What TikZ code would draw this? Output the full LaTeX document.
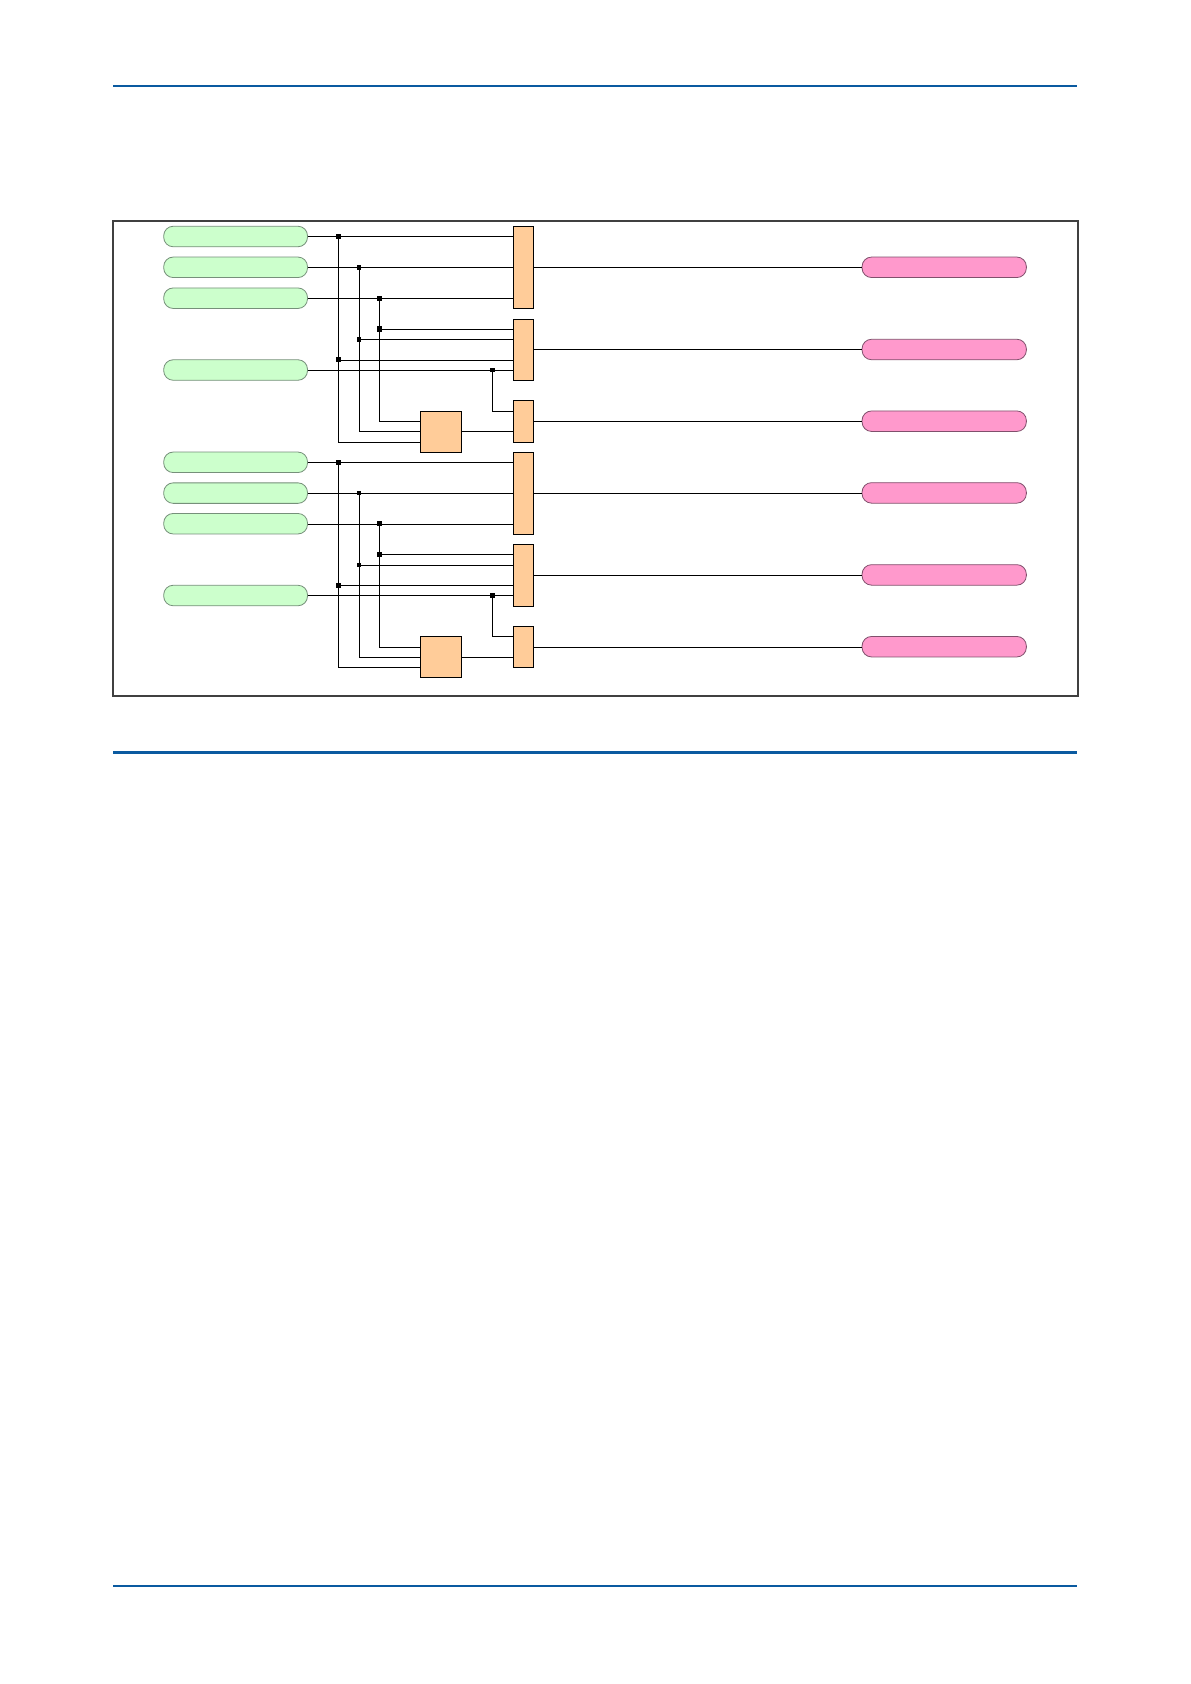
\documentclass[tikz,border=0pt]{standalone}
\definecolor{rulecol}{HTML}{0A5AA0}
\definecolor{framecol}{HTML}{404040}
\definecolor{pillgreen}{HTML}{CCFFCC}
\definecolor{pillgreenline}{HTML}{76907A}
\definecolor{pillpink}{HTML}{FF99CC}
\definecolor{pillpinkline}{HTML}{80506C}
\definecolor{boxorange}{HTML}{FFCC99}
\tikzset{
  inpill/.style={draw=pillgreenline,fill=pillgreen,line width=0.8pt,rounded corners=9.5pt,minimum width=143.8pt,minimum height=20.5pt,inner sep=0pt,outer sep=0pt},
  outpill/.style={draw=pillpinkline,fill=pillpink,line width=0.8pt,rounded corners=9.5pt,minimum width=164.3pt,minimum height=20.5pt,inner sep=0pt,outer sep=0pt},
  gatebox/.style={draw=black,fill=boxorange,line width=1pt,minimum width=20.4pt,inner sep=0pt,outer sep=0pt},
  sqbox/.style={draw=black,fill=boxorange,line width=1pt,minimum width=41.2pt,minimum height=41pt,inner sep=0pt,outer sep=0pt},
  jdot/.style={fill=black,draw=none,minimum size=5.4pt,inner sep=0pt,outer sep=0pt},
  jsmall/.style={fill=black,draw=none,minimum size=4.4pt,inner sep=0pt,outer sep=0pt},
  wire/.style={draw=black,line width=1pt},
  hrule/.style={draw=rulecol,line width=#1}
}
\begin{document}
\begin{tikzpicture}[x=1pt,y=-1pt]
\useasboundingbox (0,0) rectangle (1191,1684);
\fill[white] (0,0) rectangle (1191,1684);
% page rules
\coordinate (rl1) at (113.3,85.7); \coordinate (rr1) at (1077,85.7);
\coordinate (rl2) at (113.3,752.3); \coordinate (rr2) at (1077,752.3);
\coordinate (rl3) at (113.3,1585.7); \coordinate (rr3) at (1077,1585.7);
\draw[hrule=2pt] (rl1) -- (rr1);
\draw[hrule=3.2pt] (rl2) -- (rr2);
\draw[hrule=2pt] (rl3) -- (rr3);
% frame
\draw[framecol,line width=1.6pt] (112.7,221) rectangle (1078,695.8);

% ---------- upper group: nodes
\node[inpill] (a1) at (235.6,236.5) {};
\node[inpill] (a2) at (235.6,267.3) {};
\node[inpill] (a3) at (235.6,298.2) {};
\node[inpill] (a4) at (235.6,370) {};
\node[gatebox,minimum height=82pt] (ab1) at (523.5,267.3) {};
\node[gatebox,minimum height=61pt] (ab2) at (523.5,349.8) {};
\node[gatebox,minimum height=41.6pt] (ab3) at (523.5,421.5) {};
\node[sqbox] (as) at (441,431.8) {};
\node[outpill] (ao1) at (944.2,267.3) {};
\node[outpill] (ao2) at (944.2,349.5) {};
\node[outpill] (ao3) at (944.2,421.2) {};
\node[jdot] (aj1) at (338.3,236.4) {};
\node[jsmall] (aj2) at (359,267.4) {};
\node[jdot] (aj3) at (379.4,298.3) {};
\node[jdot] (aj4) at (379.4,329) {};
\node[jsmall] (aj5) at (359,339.3) {};
\node[jdot] (aj6) at (338.3,359.7) {};
\node[jsmall] (aj7) at (492.3,370) {};
% upper group: wires
\draw[wire] (a1.east |- aj1) -- (aj1) -- (aj1 -| ab1.west);
\draw[wire] (a2.east |- aj2) -- (aj2) -- (aj2 -| ab1.west);
\draw[wire] (a3.east |- aj3) -- (aj3) -- (aj3 -| ab1.west);
\draw[wire] (aj4) -- (aj4 -| ab2.west);
\draw[wire] (aj5) -- (aj5 -| ab2.west);
\draw[wire] (aj6 |- 0,360.3) -- (ab2.west |- 0,360.3);
\draw[wire] (a4.east |- aj7) -- (aj7) -- (aj7 -| ab2.west);
\coordinate (as1) at (as.west |- 0,421.3);
\coordinate (as2) at (as.west |- 0,431.3);
\coordinate (as3) at (as.west |- 0,442.3);
\coordinate (ab3a) at (ab3.west |- 0,411.3);
\draw[wire] (aj3) |- (as1);
\draw[wire] (aj2) |- (as2);
\draw[wire] (aj1) |- (as3);
\draw[wire] (aj7) |- (ab3a);
\draw[wire] (as2 -| as.east) -- (as2 -| ab3.west);
\draw[wire] (ab1.east |- ao1) -- (ao1.west);
\draw[wire] (ab2.east |- ao2) -- (ao2.west);
\draw[wire] (ab3.east |- ao3) -- (ao3.west);

% ---------- lower group: nodes
\node[inpill] (c1) at (235.6,462.3) {};
\node[inpill] (c2) at (235.6,493.1) {};
\node[inpill] (c3) at (235.6,523.7) {};
\node[inpill] (c4) at (235.6,595.5) {};
\node[gatebox,minimum height=82pt] (cb1) at (523.5,493.3) {};
\node[gatebox,minimum height=62pt] (cb2) at (523.5,575.3) {};
\node[gatebox,minimum height=41pt] (cb3) at (523.5,646.8) {};
\node[sqbox] (cs) at (441,656.8) {};
\node[outpill] (co1) at (944.2,492.9) {};
\node[outpill] (co2) at (944.2,574.9) {};
\node[outpill] (co3) at (944.2,646.7) {};
\node[jdot] (cj1) at (338.3,462.3) {};
\node[jsmall] (cj2) at (359,493) {};
\node[jdot] (cj3) at (379.4,523.5) {};
\node[jdot] (cj4) at (379.4,554.3) {};
\node[jsmall] (cj5) at (359,565) {};
\node[jdot] (cj6) at (338.3,585.3) {};
\node[jdot] (cj7) at (492.3,595.3) {};
% lower group: wires
\draw[wire] (c1.east |- cj1) -- (cj1) -- (cj1 -| cb1.west);
\draw[wire] (c2.east |- 0,493.3) -- (cb1.west |- 0,493.3);
\draw[wire] (c3.east |- 0,524.3) -- (cb1.west |- 0,524.3);
\draw[wire] (cj4) -- (cj4 -| cb2.west);
\draw[wire] (cj5 |- 0,565.3) -- (cb2.west |- 0,565.3);
\draw[wire] (cj6) -- (cj6 -| cb2.west);
\draw[wire] (c4.east |- cj7) -- (cj7) -- (cj7 -| cb2.west);
\coordinate (cs1) at (cs.west |- 0,647.3);
\coordinate (cs2) at (cs.west |- 0,657.3);
\coordinate (cs3) at (cs.west |- 0,667.3);
\coordinate (cb3a) at (cb3.west |- 0,636.3);
\draw[wire] (cj3) |- (cs1);
\draw[wire] (cj2) |- (cs2);
\draw[wire] (cj1) |- (cs3);
\draw[wire] (cj7) |- (cb3a);
\draw[wire] (cs2 -| cs.east) -- (cs2 -| cb3.west);
\draw[wire] (cb1.east |- 0,493.3) -- (co1.west |- 0,493.3);
\draw[wire] (cb2.east |- 0,575.5) -- (co2.west |- 0,575.5);
\draw[wire] (cb3.east |- 0,647.3) -- (co3.west |- 0,647.3);
\end{tikzpicture}
\end{document}
